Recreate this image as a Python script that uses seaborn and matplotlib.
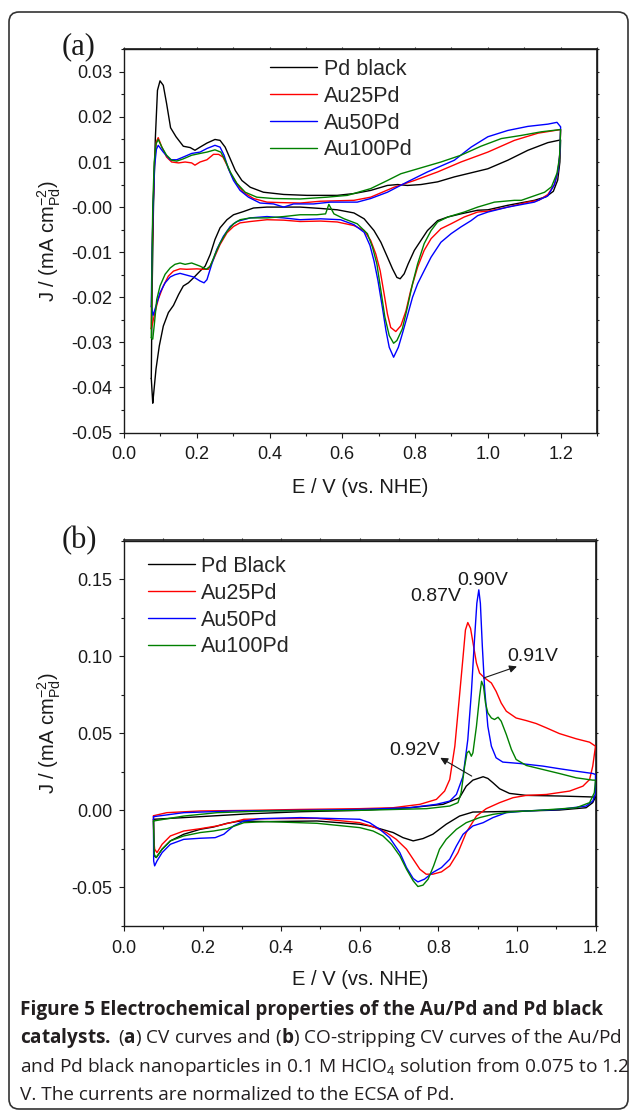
import numpy as np
import pandas as pd
import seaborn as sns
import matplotlib.pyplot as plt
from matplotlib.patches import FancyBboxPatch
from matplotlib.ticker import MultipleLocator, FormatStrFormatter
from matplotlib.transforms import Affine2D

## Panel (a): CV curves, (E / V, J / mA cm-2), anodic then cathodic scan
cv_pd_black = [
    (0.075, -0.038), (0.077, -0.02), (0.081, 0.0), (0.086, 0.015), (0.092, 0.0259), (0.099, 0.028),
    (0.108, 0.027), (0.117, 0.023), (0.128, 0.0176), (0.143, 0.0156), (0.163, 0.0135), (0.182, 0.0132),
    (0.195, 0.0126), (0.209, 0.0133), (0.228, 0.0142), (0.250, 0.015), (0.264, 0.0148), (0.278, 0.0133),
    (0.292, 0.0107), (0.306, 0.0081), (0.324, 0.0059), (0.347, 0.0044), (0.383, 0.0033), (0.439, 0.0028),
    (0.503, 0.0026), (0.586, 0.0026), (0.632, 0.003), (0.678, 0.0037), (0.724, 0.0048), (0.752, 0.005),
    (0.779, 0.0048), (0.816, 0.005), (0.862, 0.0056), (0.908, 0.0067), (0.954, 0.0076), (1.0, 0.0085),
    (1.055, 0.0104), (1.11, 0.0126), (1.165, 0.0143), (1.2, 0.0149),
    (1.198, 0.010), (1.192, 0.006), (1.18, 0.0035), (1.16, 0.0023), (1.128, 0.0015), (1.055, 0.0004),
    (1.0, -0.0006), (0.972, -0.0007), (0.926, -0.0015), (0.89, -0.0022), (0.862, -0.003), (0.834, -0.0052),
    (0.816, -0.0074), (0.798, -0.0096), (0.781, -0.0126), (0.77, -0.0148), (0.759, -0.0159), (0.75, -0.0156),
    (0.738, -0.0137), (0.724, -0.0111), (0.706, -0.0078), (0.687, -0.0052), (0.66, -0.0026), (0.632, -0.0013),
    (0.586, -0.0006), (0.54, -0.0003), (0.484, 0.0), (0.393, 0.0), (0.356, -0.0002), (0.328, -0.001),
    (0.301, -0.0017), (0.283, -0.0028), (0.264, -0.0046), (0.25, -0.0072), (0.237, -0.0105), (0.223, -0.0131),
    (0.209, -0.0142), (0.191, -0.0157), (0.177, -0.0168), (0.163, -0.0175), (0.15, -0.0194), (0.136, -0.0218),
    (0.122, -0.0234), (0.108, -0.0264), (0.097, -0.0308), (0.088, -0.0359), (0.081, -0.0418), (0.079, -0.0435),
]
cv_au25 = [
    (0.075, -0.027), (0.077, -0.012), (0.08, 0.0), (0.084, 0.01), (0.089, 0.0145), (0.094, 0.0154),
    (0.104, 0.0133), (0.117, 0.0111), (0.131, 0.01), (0.15, 0.0098), (0.168, 0.01), (0.186, 0.0098),
    (0.195, 0.0093), (0.209, 0.01), (0.228, 0.0105), (0.246, 0.0117), (0.26, 0.0117), (0.272, 0.0111),
    (0.283, 0.0093), (0.296, 0.007), (0.31, 0.0052), (0.328, 0.0033), (0.356, 0.0019), (0.393, 0.0011),
    (0.429, 0.001), (0.484, 0.0009), (0.54, 0.0013), (0.632, 0.0015), (0.678, 0.0022), (0.742, 0.0044),
    (0.798, 0.0059), (0.862, 0.0078), (0.926, 0.01), (1.0, 0.0122), (1.073, 0.0148), (1.138, 0.0164),
    (1.2, 0.0172),
    (1.198, 0.012), (1.193, 0.008), (1.183, 0.005), (1.165, 0.0028), (1.14, 0.0015), (1.11, 0.0011),
    (1.055, 0.0), (1.0, -0.0009), (0.972, -0.0011), (0.935, -0.0022), (0.899, -0.0037), (0.871, -0.0048),
    (0.844, -0.007), (0.825, -0.0096), (0.807, -0.0133), (0.788, -0.0185), (0.775, -0.023), (0.761, -0.0263),
    (0.747, -0.0276), (0.733, -0.0267), (0.724, -0.0237), (0.715, -0.0193), (0.704, -0.0141), (0.692, -0.0104),
    (0.678, -0.0074), (0.66, -0.0052), (0.632, -0.0041), (0.586, -0.0033), (0.54, -0.0031), (0.484, -0.0032),
    (0.439, -0.0029), (0.393, -0.0028), (0.347, -0.0032), (0.319, -0.0035), (0.301, -0.0043), (0.283, -0.0057),
    (0.264, -0.0083), (0.246, -0.0116), (0.232, -0.0138), (0.218, -0.0138), (0.2, -0.0137), (0.172, -0.0138),
    (0.154, -0.0137), (0.136, -0.0142), (0.122, -0.0153), (0.108, -0.0175), (0.094, -0.0205), (0.085, -0.0234),
    (0.079, -0.0256),
]
cv_au50 = [
    (0.075, -0.022), (0.077, -0.01), (0.08, 0.0), (0.084, 0.009), (0.089, 0.0128), (0.094, 0.0137),
    (0.108, 0.0122), (0.127, 0.0105), (0.145, 0.0105), (0.163, 0.0111), (0.186, 0.0119), (0.209, 0.0122),
    (0.228, 0.013), (0.25, 0.0137), (0.264, 0.0133), (0.275, 0.0115), (0.287, 0.0085), (0.301, 0.0059),
    (0.319, 0.0037), (0.342, 0.0022), (0.374, 0.0009), (0.411, 0.0007), (0.439, 0.0), (0.466, 0.0007),
    (0.521, 0.0007), (0.567, 0.0011), (0.641, 0.0011), (0.678, 0.0019), (0.724, 0.0033), (0.779, 0.0056),
    (0.834, 0.0078), (0.908, 0.0104), (0.954, 0.0133), (1.0, 0.0156), (1.055, 0.017), (1.11, 0.0179),
    (1.165, 0.0184), (1.19, 0.0188), (1.2, 0.0178),
    (1.198, 0.012), (1.193, 0.008), (1.183, 0.005), (1.165, 0.0025), (1.128, 0.0011), (1.055, 0.0),
    (1.0, -0.0011), (0.972, -0.0019), (0.954, -0.003), (0.926, -0.0044), (0.899, -0.0059), (0.871, -0.0078),
    (0.844, -0.0111), (0.825, -0.0141), (0.807, -0.017), (0.793, -0.02), (0.779, -0.0241), (0.765, -0.0281),
    (0.754, -0.0311), (0.741, -0.0333), (0.729, -0.0311), (0.72, -0.0274), (0.71, -0.0222), (0.698, -0.0163),
    (0.687, -0.0119), (0.676, -0.0085), (0.66, -0.0056), (0.632, -0.0039), (0.595, -0.0028), (0.54, -0.0026),
    (0.484, -0.0028), (0.439, -0.0024), (0.393, -0.0021), (0.347, -0.0024), (0.31, -0.0032), (0.292, -0.0043),
    (0.273, -0.0065), (0.255, -0.0094), (0.241, -0.0127), (0.228, -0.0161), (0.22, -0.0168), (0.209, -0.0164),
    (0.191, -0.0155), (0.168, -0.015), (0.154, -0.0147), (0.14, -0.015), (0.127, -0.0155), (0.113, -0.0168),
    (0.099, -0.019), (0.088, -0.0219), (0.08, -0.024),
]
cv_au100 = [
    (0.075, -0.029), (0.077, -0.012), (0.079, 0.0), (0.083, 0.01), (0.088, 0.014), (0.094, 0.015),
    (0.104, 0.0133), (0.117, 0.0115), (0.131, 0.0104), (0.145, 0.0102), (0.163, 0.0107), (0.186, 0.0115),
    (0.209, 0.0119), (0.228, 0.0122), (0.25, 0.0127), (0.266, 0.0122), (0.278, 0.0104), (0.292, 0.0078),
    (0.31, 0.0053), (0.333, 0.0033), (0.365, 0.0022), (0.411, 0.0019), (0.484, 0.0018), (0.558, 0.0022),
    (0.614, 0.0026), (0.678, 0.0041), (0.724, 0.0059), (0.761, 0.0074), (0.816, 0.0087), (0.871, 0.01),
    (0.926, 0.0115), (0.981, 0.0135), (1.037, 0.0152), (1.092, 0.0159), (1.147, 0.0167), (1.2, 0.0172),
    (1.197, 0.011), (1.19, 0.0075), (1.175, 0.0045), (1.156, 0.0033), (1.092, 0.0015), (1.073, 0.0015),
    (1.018, 0.0011), (0.972, 0.0), (0.935, -0.0011), (0.89, -0.0022), (0.862, -0.0033), (0.844, -0.0052),
    (0.825, -0.0081), (0.807, -0.0126), (0.793, -0.017), (0.779, -0.0222), (0.765, -0.027), (0.75, -0.0296),
    (0.741, -0.0302), (0.729, -0.0285), (0.717, -0.0244), (0.706, -0.0185), (0.695, -0.0126), (0.683, -0.0089),
    (0.669, -0.0059), (0.641, -0.0037), (0.605, -0.0026), (0.577, -0.0015), (0.563, 0.0006), (0.554, -0.0015),
    (0.53, -0.0017), (0.484, -0.0017), (0.439, -0.0021), (0.393, -0.0024), (0.347, -0.0024), (0.319, -0.0028),
    (0.301, -0.0037), (0.283, -0.0054), (0.264, -0.008), (0.25, -0.0105), (0.237, -0.0131), (0.226, -0.0138),
    (0.209, -0.0131), (0.186, -0.0124), (0.168, -0.0127), (0.154, -0.0124), (0.14, -0.0127), (0.127, -0.0135),
    (0.113, -0.0149), (0.099, -0.0175), (0.09, -0.0205), (0.083, -0.0263), (0.079, -0.0293),
]

## Panel (b): CO-stripping curves
co_pd_black = [
    (0.075, -0.0058), (0.194, -0.0041), (0.321, -0.0022), (0.449, -0.0009), (0.6, 0.0), (0.727, 0.0017),
    (0.812, 0.0039), (0.854, 0.0082), (0.871, 0.0157), (0.888, 0.0196), (0.914, 0.0218), (0.926, 0.0207),
    (0.939, 0.0179), (0.956, 0.014), (0.981, 0.011), (1.024, 0.0097), (1.108, 0.0093), (1.176, 0.0088),
    (1.2, 0.0086),
    (1.193, 0.005), (1.176, 0.0017), (1.108, 0.0002), (1.024, -0.0004), (0.939, -0.0009), (0.888, -0.0011),
    (0.854, -0.0037), (0.82, -0.009), (0.786, -0.0155), (0.761, -0.0183), (0.736, -0.0198), (0.71, -0.0177),
    (0.685, -0.0144), (0.651, -0.0119), (0.625, -0.0101), (0.6, -0.009), (0.491, -0.0069), (0.364, -0.0073),
    (0.296, -0.0069), (0.262, -0.0084), (0.228, -0.0108), (0.194, -0.0123), (0.152, -0.0155), (0.118, -0.0198),
    (0.097, -0.0252), (0.082, -0.0306), (0.077, -0.0295),
]
co_au25 = [
    (0.075, -0.0035), (0.109, -0.0015), (0.194, -0.0004), (0.321, 0.0), (0.449, 0.0006), (0.6, 0.0011),
    (0.685, 0.0017), (0.753, 0.0039), (0.795, 0.0071), (0.816, 0.0125), (0.829, 0.02), (0.842, 0.0416),
    (0.853, 0.0718), (0.863, 0.0998), (0.869, 0.117), (0.875, 0.1218), (0.882, 0.118), (0.89, 0.106),
    (0.897, 0.0955), (0.905, 0.089), (0.918, 0.0858), (0.935, 0.0826), (0.947, 0.0772), (0.96, 0.0696),
    (0.973, 0.0643), (0.998, 0.0599), (1.024, 0.0582), (1.049, 0.0563), (1.075, 0.0535), (1.108, 0.0498),
    (1.151, 0.0464), (1.185, 0.0442), (1.2, 0.0416),
    (1.193, 0.0287), (1.185, 0.02), (1.168, 0.0157), (1.134, 0.0125), (1.075, 0.0103), (1.024, 0.0097),
    (0.99, 0.0082), (0.956, 0.005), (0.922, 0.0011), (0.897, -0.0037), (0.871, -0.0144), (0.85, -0.0274),
    (0.829, -0.036), (0.808, -0.0399), (0.786, -0.0414), (0.769, -0.0414), (0.753, -0.0382), (0.736, -0.0317),
    (0.719, -0.0252), (0.693, -0.0188), (0.668, -0.0144), (0.634, -0.0106), (0.6, -0.008), (0.491, -0.0052),
    (0.364, -0.0054), (0.305, -0.0058), (0.271, -0.008), (0.237, -0.0101), (0.194, -0.0119), (0.152, -0.0134),
    (0.118, -0.0166), (0.097, -0.022), (0.084, -0.0274), (0.078, -0.0252), (0.0755, -0.018),
]
co_au50 = [
    (0.075, -0.0041), (0.152, -0.0015), (0.279, -0.0004), (0.449, 0.0), (0.6, 0.0006), (0.727, 0.0017),
    (0.795, 0.0039), (0.829, 0.006), (0.846, 0.0103), (0.863, 0.0222), (0.875, 0.0459), (0.884, 0.0761),
    (0.892, 0.1106), (0.898, 0.1343), (0.903, 0.143), (0.907, 0.1343), (0.912, 0.1063), (0.918, 0.0783),
    (0.926, 0.0545), (0.935, 0.0416), (0.947, 0.0341), (0.964, 0.0313), (1.007, 0.0304), (1.066, 0.0287),
    (1.108, 0.027), (1.151, 0.0254), (1.193, 0.0239), (1.2, 0.0233),
    (1.2, 0.011), (1.193, 0.006), (1.176, 0.0028), (1.108, 0.0006), (1.024, -0.0004), (0.973, -0.0015),
    (0.939, -0.0047), (0.914, -0.008), (0.888, -0.0101), (0.863, -0.0155), (0.846, -0.0231), (0.829, -0.0317),
    (0.808, -0.0371), (0.786, -0.0403), (0.765, -0.0446), (0.748, -0.0464), (0.736, -0.0442), (0.719, -0.0371),
    (0.702, -0.0274), (0.676, -0.0177), (0.651, -0.0123), (0.625, -0.008), (0.6, -0.0058), (0.449, -0.0047),
    (0.347, -0.0054), (0.305, -0.0069), (0.279, -0.0101), (0.254, -0.0155), (0.232, -0.0177), (0.194, -0.0181),
    (0.152, -0.0188), (0.118, -0.022), (0.097, -0.0274), (0.084, -0.0328), (0.078, -0.036), (0.0755, -0.0328),
]
co_au100 = [
    (0.075, -0.0069), (0.152, -0.0037), (0.237, -0.0015), (0.364, -0.0004), (0.6, 0.0), (0.77, 0.0011),
    (0.829, 0.0028), (0.85, 0.005), (0.858, 0.0114), (0.867, 0.0287), (0.873, 0.0373), (0.878, 0.0384),
    (0.884, 0.0351), (0.888, 0.0373), (0.897, 0.0545), (0.905, 0.074), (0.91, 0.0837), (0.915, 0.0804),
    (0.92, 0.0696), (0.926, 0.0632), (0.935, 0.0599), (0.943, 0.0589), (0.952, 0.0604), (0.96, 0.0578),
    (0.973, 0.0492), (0.986, 0.0395), (0.998, 0.033), (1.024, 0.0291), (1.066, 0.0265), (1.108, 0.0239),
    (1.151, 0.0211), (1.193, 0.0196), (1.2, 0.0196),
    (1.197, 0.0114), (1.185, 0.005), (1.151, 0.0017), (1.066, 0.0002), (0.981, -0.0011), (0.939, -0.0026),
    (0.905, -0.0047), (0.871, -0.008), (0.846, -0.0123), (0.82, -0.0188), (0.803, -0.0252), (0.788, -0.036),
    (0.774, -0.0446), (0.761, -0.0485), (0.748, -0.0494), (0.736, -0.0457), (0.719, -0.0382), (0.702, -0.0295),
    (0.681, -0.022), (0.659, -0.0166), (0.634, -0.0134), (0.6, -0.0112), (0.491, -0.0084), (0.364, -0.0073),
    (0.305, -0.008), (0.262, -0.0119), (0.228, -0.0134), (0.194, -0.0144), (0.152, -0.0166), (0.118, -0.0198),
    (0.097, -0.0252), (0.082, -0.0306), (0.077, -0.0285),
]

labels_a = ["Pd black", "Au25Pd", "Au50Pd", "Au100Pd"]
labels_b = ["Pd Black", "Au25Pd", "Au50Pd", "Au100Pd"]
colors = ["#000000", "#ff0000", "#0000ff", "#008000"]

# peak labels in (b): text, text position, arrow tail, arrow head (None = no arrow)
peak_text = ["0.90V", "0.87V", "0.91V", "0.92V"]
peak_xy = [(0.912, 0.150), (0.793, 0.140), (1.039, 0.101), (0.739, 0.040)]
peak_tail = [None, None, (0.915, 0.0858), (0.885, 0.0222)]
peak_head = [None, None, (1.0, 0.0933), (0.805, 0.0341)]

caption = [
    "Figure 5 Electrochemical properties of the Au/Pd and Pd black",
    r"$\mathbf{catalysts.}$ ($\mathbf{a}$) CV curves and ($\mathbf{b}$) CO-stripping CV curves of the Au/Pd",
    r"and Pd black nanoparticles in 0.1 M HClO$_4$ solution from 0.075 to 1.2",
    "V. The currents are normalized to the ECSA of Pd.",
]

sns.set_theme(style="ticks")
plt.rcParams["font.family"] = ["Liberation Sans", "DejaVu Sans"]
plt.rcParams["axes.unicode_minus"] = False
plt.rcParams["mathtext.fontset"] = "custom"
plt.rcParams["mathtext.rm"] = "Liberation Sans"
plt.rcParams["mathtext.it"] = "Liberation Sans:italic"
plt.rcParams["mathtext.bf"] = "Open Sans:bold"

W, H = 629, 1112
fig = plt.figure(figsize=(W / 100, H / 100), dpi=100)
px = Affine2D().scale(1 / W, 1 / H) + fig.transFigure   # pixel coords, origin bottom-left


def frame(curves, labels):
    rows = []
    for name, pts in zip(labels, curves):
        pts = pts + [pts[0]]          # close the loop
        for i, (e, j) in enumerate(pts):
            rows.append((name, i, e, j))
    return pd.DataFrame(rows, columns=["sample", "order", "E", "J"])


def add_axes(left, top, right, bottom):
    # pixel box, y measured from top of image
    return fig.add_axes([left / W, 1 - bottom / H, (right - left) / W, (bottom - top) / H])


def style(ax, xmax, ymin, ymax, ymaj, ymin_step):
    ax.set_xlim(0, xmax)
    ax.set_ylim(ymin, ymax)
    ax.xaxis.set_major_locator(MultipleLocator(0.2))
    ax.xaxis.set_minor_locator(MultipleLocator(0.1))
    ax.yaxis.set_major_locator(MultipleLocator(ymaj))
    ax.yaxis.set_minor_locator(MultipleLocator(ymin_step))
    ax.xaxis.set_major_formatter(FormatStrFormatter("%.1f"))
    ax.yaxis.set_major_formatter(FormatStrFormatter("%.2f"))
    ax.tick_params(which="major", direction="out", length=3.3, width=0.8, labelsize=13, colors="k")
    ax.tick_params(which="minor", direction="out", length=2.2, width=0.8, colors="k")
    ax.tick_params(axis="x", pad=6.5)
    ax.tick_params(axis="y", pad=5)
    for s in ax.spines.values():
        s.set_linewidth(1.0)
        s.set_color("k")
    top = ax.secondary_xaxis("top")
    top.xaxis.set_major_locator(MultipleLocator(0.1))
    top.tick_params(direction="out", length=1.6, width=0.8, labeltop=False)
    right = ax.secondary_yaxis("right")
    right.yaxis.set_major_locator(MultipleLocator(ymin_step))
    right.tick_params(direction="out", length=1.6, width=0.8, labelright=False)
    ax.set_xlabel("E / V (vs. NHE)", fontsize=14.5, color="k")
    ax.set_ylabel(r"J / (mA cm${}^{-2}_{\mathrm{Pd}}$)", fontsize=14.5, color="k")
    ax.grid(False)


def legend(ax, x, y):
    h, l = ax.get_legend_handles_labels()
    ax.legend(h, l, loc="upper left", bbox_to_anchor=(x / W, 1 - y / H), bbox_transform=fig.transFigure,
              frameon=False, fontsize=15.5, handlelength=2.2, handletextpad=0.3, labelspacing=0.27,
              borderpad=0, borderaxespad=0)


# (a)
ax_a = add_axes(124, 49.3, 597, 432.5)
df_a = frame([cv_pd_black, cv_au25, cv_au50, cv_au100], labels_a)
sns.lineplot(data=df_a, x="E", y="J", hue="sample", palette=colors, sort=False, estimator=None,
             linewidth=1.0, ax=ax_a)
style(ax_a, 1.3, -0.05, 0.035, 0.01, 0.005)
ax_a.yaxis.set_label_coords(-0.13, 0.5)
ax_a.xaxis.set_label_coords(0.5, -0.118)
legend(ax_a, 270, 59)

# (b)
ax_b = add_axes(124, 540.5, 595.5, 926)
df_b = frame([co_pd_black, co_au25, co_au50, co_au100], labels_b)
sns.lineplot(data=df_b, x="E", y="J", hue="sample", palette=colors, sort=False, estimator=None,
             linewidth=1.0, ax=ax_b)
style(ax_b, 1.2, -0.075, 0.175, 0.05, 0.025)
ax_b.yaxis.set_label_coords(-0.13, 0.5)
ax_b.xaxis.set_label_coords(0.5, -0.114)
legend(ax_b, 147.6, 556)

for t, xy, tail, head in zip(peak_text, peak_xy, peak_tail, peak_head):
    ax_b.text(xy[0], xy[1] - 0.001, t, ha="center", va="center", fontsize=14, color="k")
    if tail is not None:
        ax_b.annotate("", xy=head, xytext=tail,
                      arrowprops=dict(arrowstyle="-|>", color="k", lw=0.8, mutation_scale=11,
                                      shrinkA=0, shrinkB=0))

# panel letters
fig.text(62, H - 47, "(a)", transform=px, family="Liberation Serif", fontsize=22, va="center", color="k")
fig.text(62, H - 541, "(b)", transform=px, family="Liberation Serif", fontsize=22, va="center", color="k")

# caption
cap_y = [1010, 1038, 1066.5, 1095]
cap_size = [13.7, 13.7, 13.8, 13.7]
for i, (line, yy) in enumerate(zip(caption, cap_y)):
    fig.text(20, H - yy, line, transform=px, family="Open Sans", fontsize=cap_size[i], va="center",
             fontweight="bold" if i == 0 else "normal", color="#231f20")

# rounded frame round the whole figure
box = FancyBboxPatch((9, 3), 619, 1097, boxstyle="round,pad=0,rounding_size=10", transform=px,
                     fill=False, edgecolor="#333333", linewidth=1.2)
fig.patches.append(box)

fig.savefig("out.png", dpi=100)
